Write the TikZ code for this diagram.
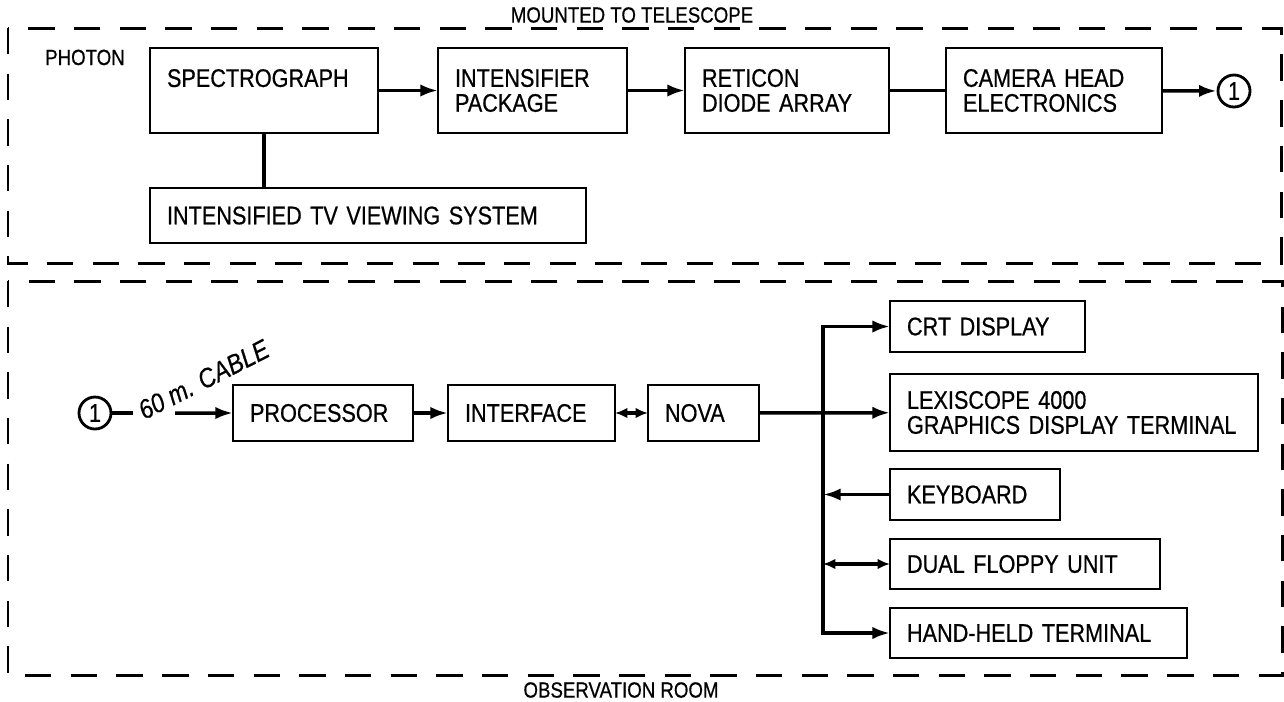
\documentclass[tikz,border=0pt]{standalone}
\usepackage{fontspec}
\setmainfont{Liberation Sans}[FakeStretch=0.85, FakeBold=0.6]
\usetikzlibrary{arrows.meta}

\newcommand{\boxfont}{\fontsize{14.5}{14.2}\selectfont}
\newcommand{\tagfont}{\fontsize{12.5}{13}\selectfont}

\begin{document}
\begin{tikzpicture}[x=0.02cm, y=-0.02cm,
    every node/.style={font=\boxfont},
    blk/.style 2 args={draw, line width=1.6pt, anchor=north west, align=left,
      inner xsep=0.34cm, inner ysep=0pt, outer sep=0pt,
      minimum width=#1cm, minimum height=#2cm, text width=#1cm-0.68cm},
    zone/.style={line width=1.7pt, dash pattern=on 15pt off 11pt},
    link/.style={line width=2pt},
    arr/.style={link, -{Latex[length=10pt,width=7pt]}},
    dblarr/.style={link, {Latex[length=7pt,width=6pt]}-{Latex[length=7pt,width=6pt]}},
    plug/.style={circle, draw, line width=1.6pt, minimum size=0.64cm, inner sep=0pt}
  ]
  \useasboundingbox (0,0) rectangle (1284,701);

  % the two rooms
  \draw[zone] (8,28) rectangle (1281,263);
  \draw[zone] (8,281) rectangle (1282,675);
  \node[font=\tagfont] (mounted) at (632,15) {MOUNTED TO TELESCOPE};
  \node[font=\tagfont] (obsroom) at (621,690) {OBSERVATION ROOM};
  \node[font=\tagfont, anchor=base west] (photon) at (39,65) {PHOTON};

  % telescope side
  \node[blk={4.56}{1.70}] (spectro) at (150,48) {SPECTROGRAPH\\\mbox{}};
  \node[blk={3.78}{1.70}] (intens) at (438,48) {INTENSIFIER\\PACKAGE};
  \node[blk={4.08}{1.70}] (reticon) at (685,48) {RETICON\\DIODE ARRAY};
  \node[blk={4.32}{1.70}] (camera) at (946,48) {CAMERA HEAD\\ELECTRONICS};
  \node[plug] (out1) at (1234,91) {1};
  \node[blk={8.72}{1.10}] (tv) at (150,188) {INTENSIFIED TV VIEWING SYSTEM};

  \draw[arr] (spectro) -- (intens);
  \draw[arr] (intens) -- (reticon);
  \draw[link] (reticon) -- (camera);
  \draw[arr] (camera) -- (out1);
  \draw[link] (spectro.south) -- (spectro.south |- tv.north);

  % observation room side
  \node[plug] (in1) at (95,413) {1};
  \coordinate (cable) at (133,413);
  \coordinate (feed) at (175,413);
  \node[font=\fontsize{15.5}{16}\selectfont\itshape, anchor=base west, rotate=27] (cablelbl) at (139,423) {60 m. CABLE};
  \node[blk={3.60}{1.12}] (proc) at (233,385) {PROCESSOR};
  \node[blk={3.34}{1.12}] (iface) at (448,385) {INTERFACE};
  \node[blk={2.22}{1.12}] (nova) at (648,385) {NOVA};

  \node[blk={3.90}{1.02}] (crt) at (890,301) {CRT DISPLAY};
  \node[blk={7.36}{1.54}] (lexi) at (890,374) {LEXISCOPE 4000\\GRAPHICS DISPLAY TERMINAL};
  \node[blk={3.40}{1.02}] (kbd) at (890,469) {KEYBOARD};
  \node[blk={5.40}{1.00}] (floppy) at (890,539) {DUAL FLOPPY UNIT};
  \node[blk={5.94}{1.00}] (hand) at (890,608) {HAND-HELD TERMINAL};
  \coordinate (bus) at (823,413);

  \draw[link] (in1) -- (cable);
  \draw[arr] (feed) -- (proc);
  \draw[arr] (proc) -- (iface);
  \draw[dblarr] (iface) -- (nova);
  \draw[arr] (nova) -- (lexi);
  \draw[arr] (bus) |- (crt);
  \draw[arr] (bus) |- (hand);
  \draw[arr] (kbd) -- (kbd.west -| bus);
  \draw[dblarr] (floppy.west -| bus) -- (floppy);
\end{tikzpicture}
\end{document}
